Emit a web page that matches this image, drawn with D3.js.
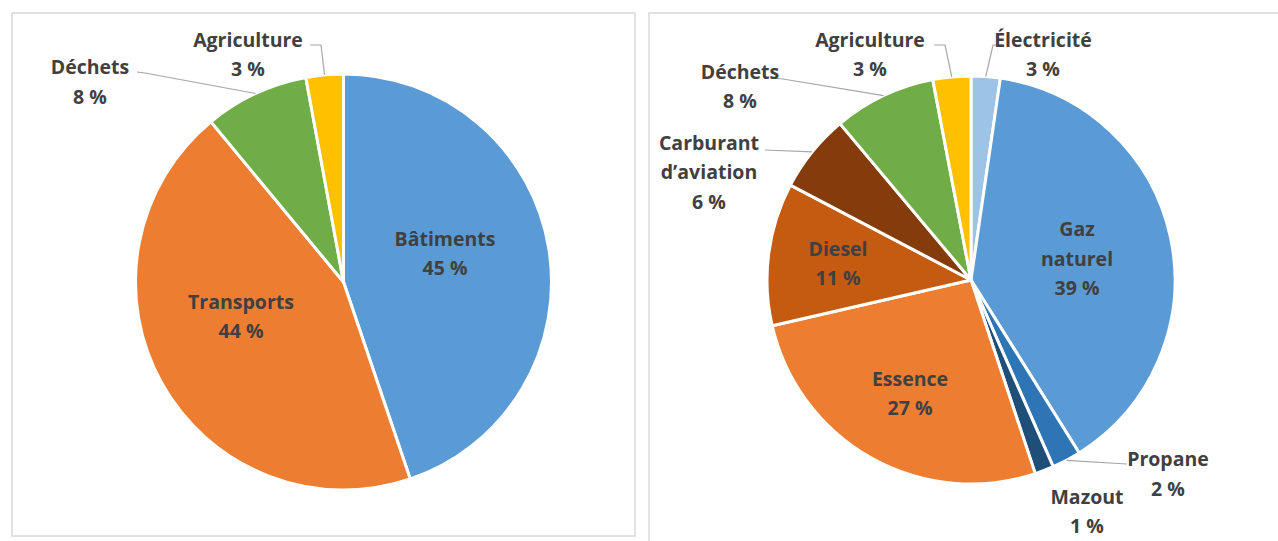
<!DOCTYPE html>
<html>
<head>
<meta charset="utf-8">
<script src="https://cdn.jsdelivr.net/npm/d3@7"></script>
<style>
  body { margin: 0; background: #fff; }
  text { font-family: "Open Sans", sans-serif; font-weight: bold; fill: #404040; }
</style>
</head>
<body>
<div id="chart-area"></div>
<script>
// left pie : emissions par secteur
var leftCats = ["Bâtiments", "Transports", "Déchets", "Agriculture"];
var leftValues = [44.8, 44.2, 8.1, 2.9];
var leftPct = ["45 %", "44 %", "8 %", "3 %"];
var leftColors = ["#5B9BD5", "#ED7D31", "#70AD47", "#FFC000"];

// right pie : emissions par source
var rightCats = ["Électricité", "Gaz naturel", "Propane", "Mazout", "Essence",
    "Diesel", "Carburant d’aviation", "Déchets", "Agriculture"];
var rightValues = [2.3, 38.8, 2.3, 1.5, 26.5, 11.3, 6.2, 8.1, 3.0];
var rightPct = ["3 %", "39 %", "2 %", "1 %", "27 %", "11 %", "6 %", "8 %", "3 %"];
var rightColors = ["#9DC3E6", "#5B9BD5", "#2E75B6", "#1F4E79", "#ED7D31",
    "#C55A11", "#843C0C", "#70AD47", "#FFC000"];

// label layout (offsets from pie centre): [dx, dy, lines, leader points]
var leftLayout = [
    {pos: [101.5, -28.5], lines: ["Bâtiments"]},
    {pos: [-102.5, 34.5], lines: ["Transports"]},
    {pos: [-253.5, -200], lines: ["Déchets"], leader: [[-198.5, -209], [-206.5, -210]]},
    {pos: [-95.5, -227.5], lines: ["Agriculture"], leader: [[-22.5, -237], [-33.5, -237]]}
];
var rightLayout = [
    {pos: [72, -225.5], lines: ["Électricité"], leader: [[22, -235], [32, -235]]},
    {pos: [106, -21.5], lines: ["Gaz", "naturel"]},
    {pos: [197, 194], lines: ["Propane"], leader: [[156, 184]]},
    {pos: [116, 231.5], lines: ["Mazout"]},
    {pos: [-61, 113.5], lines: ["Essence"]},
    {pos: [-133, -16.5], lines: ["Diesel"]},
    {pos: [-262, -108], lines: ["Carburant", "d’aviation"], leader: [[-206, -130]]},
    {pos: [-231, -193.5], lines: ["Déchets"], leader: [[-188, -201], [-199, -202]]},
    {pos: [-101, -225.5], lines: ["Agriculture"], leader: [[-26, -235], [-37, -235]]}
];

var svg = d3.select("#chart-area")
    .append("svg")
    .attr("width", 1278)
    .attr("height", 541);

// panel frames
svg.append("rect")
    .attr("x", 12).attr("y", 13)
    .attr("width", 623).attr("height", 523)
    .attr("fill", "none").attr("stroke", "#D9D9D9").attr("stroke-width", 1.5);
svg.append("rect")
    .attr("x", 649).attr("y", 13)
    .attr("width", 700).attr("height", 600)
    .attr("fill", "none").attr("stroke", "#D9D9D9").attr("stroke-width", 1.5);

function drawPie(cx, cy, r, cats, values, pct, colors, layout) {
    var g = svg.append("g").attr("transform", "translate(" + cx + "," + cy + ")");

    var pie = d3.pie().sort(null).value(function(d) { return d; });
    var arcs = pie(values);
    var arc = d3.arc().innerRadius(0).outerRadius(r);

    g.selectAll("path.slice")
        .data(arcs)
        .enter()
        .append("path")
        .attr("class", "slice")
        .attr("d", arc)
        .attr("fill", function(d, i) { return colors[i]; })
        .attr("stroke", "#fff")
        .attr("stroke-width", 3)
        .attr("stroke-linejoin", "round");

    // leader lines start on the rim at the slice middle
    arcs.forEach(function(a, i) {
        var lay = layout[i];
        if (!lay.leader) return;
        var mid = (a.startAngle + a.endAngle) / 2;
        var pts = [[r * Math.sin(mid), -r * Math.cos(mid)]].concat(lay.leader);
        g.append("path")
            .attr("d", d3.line()(pts))
            .attr("fill", "none")
            .attr("stroke", "#A6A6A6")
            .attr("stroke-width", 1.2);
    });

    var lineH = 29.5;
    arcs.forEach(function(a, i) {
        var lay = layout[i];
        var lines = lay.lines.concat([pct[i]]);
        var top = lay.pos[1] - (lines.length - 1) * lineH / 2;
        var t = g.append("text")
            .attr("text-anchor", "middle")
            .style("font-size", "19.5px");
        lines.forEach(function(s, k) {
            t.append("tspan")
                .attr("x", lay.pos[0])
                .attr("y", top + k * lineH)
                .attr("dy", "0.36em")
                .text(s);
        });
    });
}

drawPie(343.5, 282, 208, leftCats, leftValues, leftPct, leftColors, leftLayout);
drawPie(971, 280, 204, rightCats, rightValues, rightPct, rightColors, rightLayout);
</script>
</body>
</html>
